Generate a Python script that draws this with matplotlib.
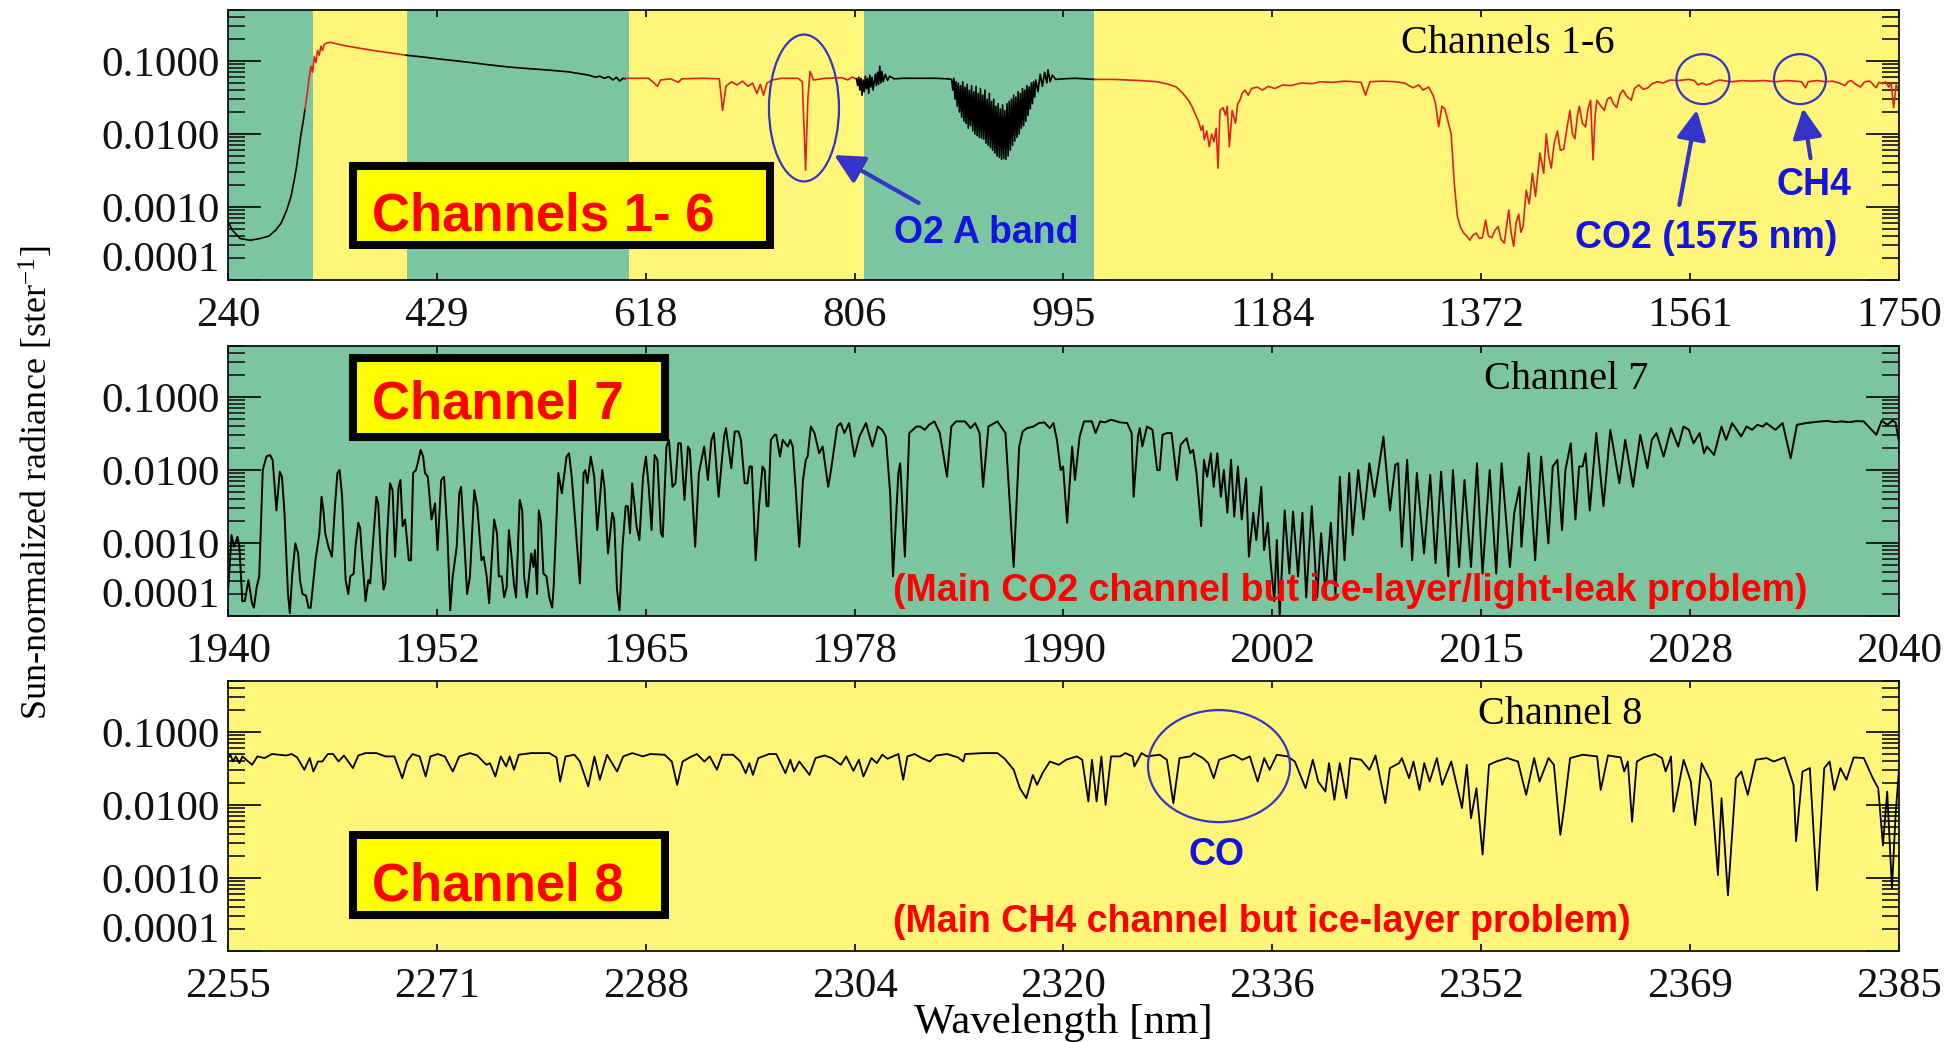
import numpy as np
import matplotlib
matplotlib.use("Agg")
import matplotlib.pyplot as plt
from matplotlib.patches import Rectangle, Ellipse
from matplotlib.ticker import FixedLocator, FixedFormatter, LogLocator, NullFormatter

plt.rcParams["font.family"] = ["Liberation Serif", "DejaVu Serif"]
plt.rcParams["mathtext.fontset"] = "custom"
plt.rcParams["mathtext.rm"] = "Liberation Serif"
plt.rcParams["mathtext.it"] = "Liberation Serif:italic"

SANS = ["Liberation Sans", "DejaVu Sans"]
GREEN = "#7BC6A1"
YELLOW = "#FFF679"
RED_LINE = "#E02020"
BLUE = "#3434C8"
BLUE_TEXT = "#1414E0"

# ---------------- axis labels / ticks ----------------
y_ticks = [1e-4, 1e-3, 1e-2, 1e-1]
y_ticklabels = ["0.0001", "0.0010", "0.0100", "0.1000"]
top_xlabels = ["240", "429", "618", "806", "995", "1184", "1372", "1561", "1750"]
mid_xlabels = ["1940", "1952", "1965", "1978", "1990", "2002", "2015", "2028", "2040"]
bot_xlabels = ["2255", "2271", "2288", "2304", "2320", "2336", "2352", "2369", "2385"]

# channel boundaries in the UV-NIR panel (green / yellow shading)
band_edges = [240, 317, 402, 602, 815, 1023, 1750]

# ---------------- channels 1-6 (wavelength nm, radiance) ----------------
ch1 = [(240, 6.3e-4), (244, 4.8e-4), (251, 3.7e-4), (260, 3.5e-4), (269, 3.7e-4),
       (277, 4.0e-4), (283, 4.8e-4), (288, 6.0e-4), (293, 9.0e-4), (297, 1.4e-3),
       (300, 2.4e-3), (302, 3.6e-3), (304, 6.0e-3), (306, 1.0e-2), (308, 1.5e-2),
       (309.6, 2.2e-2)]
ch2 = [(309.6, 0.022), (311.5, 0.035), (313.5, 0.061), (315, 0.085), (316.5, 0.070),
       (318, 0.115), (319.5, 0.095), (321, 0.140), (322.5, 0.120), (324, 0.160),
       (325.5, 0.140), (327, 0.170), (330, 0.178), (333, 0.180), (338, 0.172),
       (345, 0.163), (352, 0.156), (362, 0.147), (372, 0.139), (382, 0.132),
       (392, 0.126), (401, 0.120)]
ch3 = [(401, 0.120), (415, 0.114), (430, 0.107), (445, 0.101), (460, 0.095),
       (475, 0.089), (490, 0.084), (505, 0.080), (520, 0.077), (535, 0.074),
       (548, 0.071), (558, 0.067), (566, 0.064), (572, 0.060), (576, 0.062),
       (580, 0.058), (584, 0.061), (588, 0.055), (591, 0.060), (594, 0.053),
       (597, 0.058), (599, 0.057)]
ch4 = [(599, 0.058), (620, 0.058), (625, 0.050), (628, 0.045), (631, 0.055),
       (640, 0.057), (647, 0.051), (650, 0.057), (670, 0.058), (684, 0.057),
       (687, 0.021), (690, 0.045), (695, 0.052), (700, 0.047), (705, 0.053),
       (710, 0.045), (714, 0.050), (718, 0.036), (721, 0.048), (724, 0.034),
       (727, 0.050), (732, 0.055), (740, 0.058), (755, 0.058), (759, 0.052),
       (762, 0.0032), (764, 0.030), (766, 0.072), (769, 0.055), (780, 0.058),
       (795, 0.059), (800, 0.055), (804, 0.060), (808, 0.057)]
ch5 = [(808, 0.057), (809, 0.046), (810, 0.060), (811, 0.040), (812, 0.058),
       (813, 0.034), (814, 0.055), (815, 0.038), (816, 0.062), (817, 0.042),
       (818, 0.058), (819, 0.036), (820, 0.064), (821, 0.044), (822, 0.060),
       (823, 0.040), (825, 0.066), (826, 0.046), (827, 0.070), (828, 0.048),
       (829, 0.085), (830, 0.050), (831, 0.072), (832, 0.052), (834, 0.066),
       (836, 0.054), (838, 0.062), (842, 0.057), (850, 0.058), (865, 0.058),
       (880, 0.058), (890, 0.057), (894, 0.056), (895, 0.040), (896, 0.058),
       (897, 0.030), (898, 0.052), (899, 0.024), (900, 0.050), (901, 0.020),
       (902, 0.046), (903, 0.017), (904, 0.052), (905, 0.015), (906, 0.044),
       (907, 0.014), (908, 0.048), (909, 0.012), (910, 0.040), (911, 0.013),
       (912, 0.046), (913, 0.011), (914, 0.038), (915, 0.010), (916, 0.045),
       (917, 0.0095), (918, 0.036), (919, 0.009), (920, 0.042), (921, 0.0088),
       (922, 0.034), (923, 0.0085), (924, 0.040), (925, 0.0075), (926, 0.030),
       (927, 0.007), (928, 0.036), (929, 0.0065), (930, 0.028), (931, 0.006),
       (932, 0.030), (933, 0.0055), (934, 0.024), (935, 0.005), (936, 0.026),
       (937, 0.0048), (938, 0.022), (939, 0.0045), (940, 0.025), (941, 0.0046),
       (942, 0.021), (943, 0.0045), (944, 0.026), (945, 0.005), (946, 0.028),
       (947, 0.006), (948, 0.030), (949, 0.007), (950, 0.034), (951, 0.008),
       (952, 0.032), (953, 0.009), (954, 0.038), (955, 0.010), (956, 0.036),
       (957, 0.012), (958, 0.042), (959, 0.013), (960, 0.040), (961, 0.015),
       (962, 0.046), (963, 0.018), (964, 0.044), (965, 0.022), (966, 0.050),
       (967, 0.026), (968, 0.052), (969, 0.032), (970, 0.055), (972, 0.038),
       (974, 0.066), (976, 0.045), (978, 0.070), (980, 0.050), (981, 0.076),
       (983, 0.052), (985, 0.064), (988, 0.056), (995, 0.057), (1005, 0.058),
       (1015, 0.057), (1023, 0.056)]
ch6 = [(1023, 0.056), (1040, 0.056), (1052, 0.055), (1065, 0.054), (1080, 0.052),
       (1090, 0.048), (1097, 0.044), (1103, 0.036), (1108, 0.029), (1111, 0.024),
       (1114, 0.019), (1117, 0.015), (1119.5, 0.0112), (1121, 0.013), (1122.3, 0.0083),
       (1124.5, 0.011), (1126.8, 0.0067), (1129, 0.010), (1131, 0.0078), (1133, 0.012),
       (1134.7, 0.0034), (1136.4, 0.021), (1139.2, 0.023), (1141.5, 0.018), (1143, 0.024),
       (1144.9, 0.0067), (1147.5, 0.021), (1150.5, 0.014), (1152.5, 0.026), (1154.5, 0.029),
       (1156.5, 0.036), (1159, 0.040), (1162, 0.034), (1165, 0.042), (1170, 0.044),
       (1175, 0.040), (1180, 0.045), (1186, 0.042), (1193, 0.047), (1200, 0.046),
       (1210, 0.050), (1220, 0.049), (1227, 0.052), (1238, 0.051), (1249, 0.053),
       (1258, 0.052), (1264, 0.051), (1268, 0.034), (1272, 0.052), (1283, 0.053),
       (1295, 0.052), (1303, 0.050), (1311, 0.043), (1316, 0.047), (1320, 0.040),
       (1325, 0.044), (1329, 0.034), (1331.3, 0.026), (1334.1, 0.0126), (1337, 0.024),
       (1339.7, 0.022), (1343, 0.014), (1345.4, 0.010), (1348.2, 0.0021), (1351, 0.00074),
       (1354, 0.00052), (1356.7, 0.00044), (1359.5, 0.00040), (1362.3, 0.00035), (1365, 0.00041),
       (1368, 0.00044), (1371, 0.00037), (1373.6, 0.00038), (1376.5, 0.00066), (1379, 0.00040),
       (1382.1, 0.00038), (1385, 0.00048), (1387.8, 0.00054), (1390.5, 0.00036), (1393.4, 0.00032),
       (1397.4, 0.00091), (1399.5, 0.00045), (1401.9, 0.00029), (1404, 0.00060), (1406.4, 0.00080),
       (1408.4, 0.00045), (1410.4, 0.00054), (1413.2, 0.0017), (1416, 0.0011), (1418.8, 0.0029),
       (1421.6, 0.0014), (1425.6, 0.0055), (1429, 0.0029), (1431.3, 0.010), (1433.5, 0.0050),
       (1435.8, 0.0034), (1438.5, 0.0075), (1441.4, 0.011), (1444, 0.0060), (1447.1, 0.0062),
       (1450, 0.012), (1452.7, 0.021), (1455, 0.010), (1457.2, 0.0086), (1459.5, 0.018),
       (1461.2, 0.024), (1464, 0.014), (1466.8, 0.0125), (1469, 0.022), (1471.4, 0.029),
       (1473.6, 0.0044), (1475.5, 0.018), (1477, 0.029), (1480, 0.025), (1483.8, 0.021),
       (1486.5, 0.030), (1489.4, 0.032), (1492, 0.026), (1495, 0.023), (1498, 0.035),
       (1500.7, 0.040), (1504, 0.033), (1508.1, 0.029), (1511, 0.042), (1514.9, 0.047),
       (1519, 0.041), (1523.3, 0.043), (1527, 0.049), (1531.8, 0.052), (1537, 0.050),
       (1543.1, 0.055), (1551, 0.054), (1560, 0.056), (1565, 0.054), (1568.5, 0.047),
       (1572, 0.050), (1576, 0.047), (1579.8, 0.049), (1584, 0.053), (1588.3, 0.055),
       (1594, 0.053), (1599.6, 0.052), (1608, 0.054), (1616.5, 0.053), (1628, 0.054),
       (1639.1, 0.052), (1648, 0.054), (1656, 0.053), (1662, 0.052), (1665.6, 0.043),
       (1668, 0.052), (1676, 0.054), (1684, 0.052), (1690, 0.053), (1696, 0.050),
       (1701.2, 0.046), (1704, 0.052), (1706.9, 0.054), (1711, 0.048), (1715.3, 0.044),
       (1719, 0.052), (1723.8, 0.053), (1727, 0.047), (1729.5, 0.043), (1732, 0.051),
       (1735.1, 0.049), (1738, 0.052), (1740.8, 0.044), (1743, 0.050), (1745.3, 0.023),
       (1747.5, 0.047), (1750, 0.040)]

# ---------------- channel 7 ----------------
ch7 = [(1940.00, 2.1e-4), (1940.21, 1.29e-3), (1940.36, 8.9e-4), (1940.57, 1.22e-3), (1940.68, 8.9e-4),
       (1940.86, 1.6e-4), (1941.01, 1.6e-4), (1941.22, 3.1e-4), (1941.44, 1.5e-4), (1941.55, 1.3e-4),
       (1941.72, 2.5e-4), (1941.87, 3.5e-4), (1942.08, 1.0e-2), (1942.30, 1.53e-2), (1942.52, 1.61e-2),
       (1942.67, 1.38e-2), (1942.90, 2.8e-3), (1943.10, 9.5e-3), (1943.23, 8.1e-3), (1943.38, 2.6e-3),
       (1943.59, 2.0e-4), (1943.70, 1.1e-4), (1943.85, 3.8e-4), (1944.03, 9.9e-4), (1944.20, 7.2e-4),
       (1944.31, 3.1e-4), (1944.46, 2.0e-4), (1944.67, 1.9e-4), (1944.82, 1.3e-4), (1944.95, 1.3e-4),
       (1945.10, 2.8e-4), (1945.25, 6.2e-4), (1945.47, 1.36e-3), (1945.60, 4.3e-3), (1945.71, 2.8e-3),
       (1945.82, 1.36e-3), (1946.01, 8.9e-4), (1946.22, 6.5e-4), (1946.40, 3.2e-3), (1946.55, 9.1e-3),
       (1946.68, 1.0e-2), (1946.83, 4.3e-3), (1947.04, 3.1e-4), (1947.20, 2.0e-4), (1947.32, 3.5e-4),
       (1947.52, 3.8e-4), (1947.63, 8.9e-4), (1947.80, 1.9e-3), (1947.91, 1.6e-3), (1948.01, 7.2e-4),
       (1948.17, 2.5e-4), (1948.23, 1.6e-4), (1948.40, 3.1e-4), (1948.51, 2.8e-4), (1948.66, 8.9e-4),
       (1948.88, 4.3e-3), (1948.99, 3.5e-3), (1949.14, 7.2e-4), (1949.31, 2.3e-4), (1949.42, 2.8e-4),
       (1949.52, 1.22e-3), (1949.70, 6.6e-3), (1949.85, 5.3e-3), (1950.00, 6.5e-4), (1950.21, 5.9e-3),
       (1950.32, 7.3e-3), (1950.45, 1.7e-3), (1950.60, 2.1e-3), (1950.82, 5.8e-4), (1950.95, 5.8e-4),
       (1951.08, 9.1e-3), (1951.25, 1.0e-2), (1951.40, 1.38e-2), (1951.53, 1.89e-2), (1951.68, 1.53e-2),
       (1951.79, 9.1e-3), (1951.96, 8.1e-3), (1952.18, 2.1e-3), (1952.39, 3.5e-3), (1952.54, 8.0e-4),
       (1952.76, 7.3e-3), (1952.93, 8.1e-3), (1953.13, 1.36e-3), (1953.30, 1.2e-4), (1953.45, 3.5e-4),
       (1953.69, 8.9e-4), (1953.84, 4.8e-3), (1953.95, 5.9e-3), (1954.16, 8.9e-4), (1954.31, 2.0e-4),
       (1954.48, 3.5e-4), (1954.74, 5.3e-3), (1954.92, 3.2e-3), (1955.17, 5.8e-4), (1955.30, 6.5e-4),
       (1955.48, 3.5e-4), (1955.63, 1.5e-4), (1955.78, 5.8e-4), (1955.93, 2.1e-3), (1956.10, 1.36e-3),
       (1956.21, 3.5e-4), (1956.38, 3.5e-4), (1956.53, 1.8e-4), (1956.68, 2.5e-4), (1956.81, 1.5e-3),
       (1956.99, 5.8e-4), (1957.11, 2.8e-4), (1957.24, 1.8e-4), (1957.46, 3.9e-3), (1957.61, 2.8e-3),
       (1957.72, 3.5e-4), (1957.89, 1.8e-4), (1958.15, 7.2e-4), (1958.28, 4.7e-4), (1958.37, 8.0e-4),
       (1958.50, 2.0e-4), (1958.60, 2.8e-3), (1958.73, 1.9e-3), (1958.88, 3.8e-4), (1959.06, 3.5e-4),
       (1959.23, 1.8e-4), (1959.40, 1.3e-4), (1959.49, 2.5e-4), (1959.77, 9.1e-3), (1959.98, 4.8e-3),
       (1960.26, 1.53e-2), (1960.41, 1.7e-2), (1960.57, 8.1e-3), (1960.74, 2.6e-3), (1961.06, 2.8e-4),
       (1961.28, 9.1e-3), (1961.39, 1.0e-2), (1961.51, 6.6e-3), (1961.71, 1.53e-2), (1961.92, 8.1e-3),
       (1962.10, 1.5e-3), (1962.40, 1.0e-2), (1962.53, 5.9e-3), (1962.74, 7.2e-4), (1963.00, 2.6e-3),
       (1963.11, 2.1e-3), (1963.28, 2.3e-4), (1963.43, 1.2e-4), (1963.61, 8.9e-4), (1963.80, 3.2e-3),
       (1963.93, 3.2e-3), (1964.06, 1.36e-3), (1964.19, 6.6e-3), (1964.34, 3.2e-3), (1964.45, 1.7e-3),
       (1964.62, 1.1e-3), (1964.84, 8.1e-3), (1965.01, 1.53e-2), (1965.18, 5.9e-3), (1965.35, 1.5e-3),
       (1965.53, 1.61e-2), (1965.70, 1.38e-2), (1965.91, 1.36e-3), (1966.02, 1.22e-3), (1966.24, 2.1e-2),
       (1966.39, 2.59e-2), (1966.60, 5.9e-3), (1966.78, 6.6e-3), (1966.95, 2.33e-2), (1967.10, 2.33e-2),
       (1967.32, 3.9e-3), (1967.53, 2.1e-2), (1967.64, 1.89e-2), (1967.96, 8.9e-4), (1968.18, 9.1e-3),
       (1968.50, 2.1e-2), (1968.72, 7.3e-3), (1968.93, 2.59e-2), (1969.08, 3.21e-2), (1969.36, 4.3e-3),
       (1969.69, 2.88e-2), (1969.80, 3.75e-2), (1970.12, 1.06e-2), (1970.33, 3.38e-2), (1970.55, 3.38e-2),
       (1970.70, 2.59e-2), (1970.92, 6.6e-3), (1971.09, 6.6e-3), (1971.22, 1.12e-2), (1971.35, 1.12e-2),
       (1971.58, 5.8e-4), (1971.78, 3.2e-3), (1971.99, 1.12e-2), (1972.12, 1.0e-2), (1972.23, 3.2e-3),
       (1972.34, 3.2e-3), (1972.49, 2.59e-2), (1972.71, 3.04e-2), (1972.81, 3.04e-2), (1973.03, 1.53e-2),
       (1973.20, 2.59e-2), (1973.50, 2.1e-2), (1973.65, 2.59e-2), (1973.80, 2.1e-2), (1973.98, 5.3e-3),
       (1974.19, 8.9e-4), (1974.41, 7.3e-3), (1974.58, 1.38e-2), (1974.69, 1.53e-2), (1974.88, 3.95e-2),
       (1975.10, 3.21e-2), (1975.38, 1.7e-2), (1975.59, 2.1e-2), (1975.92, 5.9e-3), (1976.09, 1.0e-2),
       (1976.46, 3.95e-2), (1976.67, 4.4e-2), (1976.89, 3.21e-2), (1977.17, 4.4e-2), (1977.49, 1.53e-2),
       (1977.79, 2.88e-2), (1978.18, 4.4e-2), (1978.57, 2.1e-2), (1978.89, 3.95e-2), (1979.15, 3.56e-2),
       (1979.37, 2.88e-2), (1979.63, 4.8e-3), (1979.80, 3.5e-4), (1980.12, 9.1e-3), (1980.23, 1.24e-2),
       (1980.51, 6.5e-4), (1980.77, 3.21e-2), (1981.20, 3.95e-2), (1981.42, 3.95e-2), (1981.70, 3.56e-2),
       (1981.96, 4.17e-2), (1982.28, 4.64e-2), (1982.60, 3.21e-2), (1983.03, 8.1e-3), (1983.29, 3.95e-2),
       (1983.57, 4.64e-2), (1984.11, 4.64e-2), (1984.44, 3.75e-2), (1984.72, 4.4e-2), (1984.98, 3.21e-2),
       (1985.19, 5.9e-3), (1985.51, 3.95e-2), (1986.05, 4.64e-2), (1986.53, 3.21e-2), (1987.02, 4.7e-4),
       (1987.35, 2.1e-2), (1987.56, 3.38e-2), (1987.82, 3.75e-2), (1988.21, 3.95e-2), (1988.53, 4.4e-2),
       (1988.86, 4.5e-2), (1989.18, 3.75e-2), (1989.40, 4.4e-2), (1989.61, 2.59e-2), (1989.83, 1.0e-2),
       (1989.98, 1.12e-2), (1990.22, 1.9e-3), (1990.52, 2.1e-2), (1990.69, 7.3e-3), (1990.97, 2.88e-2),
       (1991.23, 4.64e-2), (1991.70, 4.64e-2), (1991.92, 3.21e-2), (1992.20, 4.64e-2), (1992.48, 4.5e-2),
       (1992.85, 4.89e-2), (1993.39, 4.5e-2), (1993.82, 4.4e-2), (1994.08, 3.21e-2), (1994.20, 4.3e-3),
       (1994.46, 2.88e-2), (1994.57, 3.75e-2), (1994.72, 2.1e-2), (1995.00, 3.95e-2), (1995.33, 3.56e-2),
       (1995.61, 1.0e-2), (1995.76, 1.0e-2), (1995.93, 3.04e-2), (1996.19, 3.21e-2), (1996.47, 3.21e-2),
       (1996.79, 7.3e-3), (1997.01, 2.22e-2), (1997.37, 2.73e-2), (1997.59, 1.7e-2), (1997.76, 1.89e-2),
       (1997.96, 9.1e-3), (1998.24, 1.7e-3), (1998.41, 1.38e-2), (1998.60, 8.1e-3), (1998.82, 1.7e-2),
       (1998.99, 5.9e-3), (1999.21, 1.7e-2), (1999.42, 4.3e-3), (1999.60, 1.0e-2), (1999.81, 2.6e-3),
       (2000.03, 1.38e-2), (2000.22, 2.3e-3), (2000.44, 1.12e-2), (2000.67, 2.1e-3), (2000.93, 7.7e-3),
       (2001.10, 6.5e-4), (2001.36, 2.6e-3), (2001.54, 1.1e-3), (2001.84, 5.9e-3), (2002.01, 8.0e-4),
       (2002.23, 1.9e-3), (2002.40, 5.3e-4), (2002.62, 1.6e-4), (2002.77, 1.1e-3), (2002.94, 1.0e-4),
       (2003.24, 2.8e-3), (2003.52, 3.8e-4), (2003.74, 2.7e-3), (2004.04, 3.5e-4), (2004.30, 2.6e-3),
       (2004.53, 1.8e-4), (2004.86, 3.2e-3), (2005.18, 1.8e-4), (2005.42, 1.36e-3), (2005.68, 2.0e-4),
       (2006.00, 1.9e-3), (2006.28, 2.0e-4), (2006.54, 8.1e-3), (2006.82, 5.8e-4), (2007.10, 9.1e-3),
       (2007.31, 1.29e-3), (2007.64, 1.0e-2), (2007.96, 2.1e-3), (2008.31, 1.24e-2), (2008.61, 4.3e-3),
       (2009.15, 2.88e-2), (2009.54, 2.8e-3), (2009.86, 1.18e-2), (2010.03, 1.24e-2), (2010.25, 8.9e-4),
       (2010.57, 1.38e-2), (2010.87, 5.8e-4), (2011.15, 9.1e-3), (2011.58, 7.2e-4), (2011.95, 8.6e-3),
       (2012.27, 5.3e-4), (2012.60, 9.5e-3), (2013.03, 3.5e-4), (2013.31, 1.0e-2), (2013.68, 4.7e-4),
       (2014.00, 7.3e-3), (2014.39, 4.7e-4), (2014.75, 1.24e-2), (2015.08, 3.8e-4), (2015.51, 1.0e-2),
       (2015.90, 3.8e-4), (2016.22, 1.24e-2), (2016.72, 4.7e-4), (2016.98, 2.6e-3), (2017.30, 5.9e-3),
       (2017.41, 8.9e-4), (2017.84, 1.7e-2), (2018.23, 5.8e-4), (2018.59, 1.53e-2), (2019.02, 9.9e-4),
       (2019.28, 1.12e-2), (2019.56, 1.38e-2), (2019.84, 1.5e-3), (2020.04, 1.0e-2), (2020.36, 2.33e-2),
       (2020.64, 2.1e-3), (2020.86, 1.12e-2), (2021.07, 1.12e-2), (2021.25, 1.7e-2), (2021.50, 2.8e-3),
       (2021.89, 3.21e-2), (2022.32, 3.2e-3), (2022.73, 3.56e-2), (2023.27, 6.6e-3), (2023.62, 2.59e-2),
       (2024.09, 5.9e-3), (2024.52, 3.04e-2), (2024.95, 1.06e-2), (2025.21, 2.59e-2), (2025.49, 3.21e-2),
       (2025.92, 1.53e-2), (2026.36, 3.75e-2), (2026.79, 2.1e-2), (2027.11, 3.95e-2), (2027.43, 3.56e-2),
       (2027.71, 2.33e-2), (2028.08, 3.21e-2), (2028.34, 1.7e-2), (2028.51, 2.1e-2), (2028.94, 1.61e-2),
       (2029.38, 3.95e-2), (2029.66, 2.59e-2), (2030.02, 4.4e-2), (2030.56, 2.88e-2), (2030.88, 3.95e-2),
       (2031.21, 3.56e-2), (2031.53, 4.17e-2), (2031.86, 3.95e-2), (2032.07, 4.4e-2), (2032.61, 3.56e-2),
       (2033.04, 4.4e-2), (2033.52, 1.45e-2), (2033.90, 4.17e-2), (2034.44, 4.4e-2), (2034.90, 4.52e-2),
       (2035.31, 4.64e-2), (2035.70, 4.7e-2), (2036.17, 4.55e-2), (2036.60, 4.64e-2), (2037.03, 4.52e-2),
       (2037.45, 4.68e-2), (2037.89, 4.64e-2), (2038.65, 3.04e-2), (2038.97, 4.75e-2), (2039.30, 4.17e-2),
       (2039.62, 4.75e-2), (2039.80, 4.5e-2), (2040.00, 2.5e-2)]

# ---------------- channel 8 ----------------
ch8 = [(2255.00, 4.4e-2), (2255.19, 4.89e-2), (2255.39, 3.95e-2), (2255.61, 4.64e-2), (2255.89, 3.75e-2),
       (2256.12, 4.64e-2), (2256.87, 3.56e-2), (2257.29, 4.64e-2), (2257.85, 4.4e-2), (2258.41, 5.0e-2),
       (2259.54, 4.78e-2), (2259.96, 5.0e-2), (2260.38, 4.5e-2), (2260.94, 3.04e-2), (2261.36, 4.4e-2),
       (2261.64, 2.88e-2), (2262.00, 3.95e-2), (2262.34, 3.95e-2), (2262.76, 5.0e-2), (2263.18, 5.0e-2),
       (2263.60, 3.95e-2), (2264.02, 4.78e-2), (2264.72, 3.21e-2), (2265.14, 4.78e-2), (2265.70, 5.15e-2),
       (2266.55, 5.15e-2), (2267.25, 4.64e-2), (2267.95, 4.64e-2), (2268.56, 2.33e-2), (2268.93, 3.95e-2),
       (2269.35, 5.0e-2), (2269.91, 4.64e-2), (2270.38, 2.46e-2), (2270.75, 4.64e-2), (2271.31, 5.0e-2),
       (2271.87, 4.64e-2), (2272.49, 2.88e-2), (2272.99, 4.64e-2), (2273.83, 5.15e-2), (2274.39, 4.78e-2),
       (2275.10, 3.56e-2), (2275.38, 3.75e-2), (2275.80, 2.46e-2), (2276.22, 4.64e-2), (2276.64, 3.38e-2),
       (2276.92, 4.64e-2), (2277.25, 3.04e-2), (2277.62, 4.89e-2), (2278.60, 5.15e-2), (2280.00, 5.15e-2),
       (2280.56, 4.5e-2), (2280.84, 2.1e-2), (2281.26, 4.64e-2), (2281.96, 4.89e-2), (2282.38, 3.95e-2),
       (2283.03, 1.8e-2), (2283.51, 4.64e-2), (2283.93, 2.22e-2), (2284.49, 4.89e-2), (2285.27, 2.88e-2),
       (2285.75, 4.64e-2), (2286.45, 5.15e-2), (2287.29, 4.64e-2), (2287.85, 5.0e-2), (2288.97, 4.89e-2),
       (2289.53, 3.95e-2), (2289.95, 1.89e-2), (2290.37, 3.95e-2), (2291.07, 4.64e-2), (2291.49, 5.0e-2),
       (2292.06, 3.95e-2), (2292.48, 4.64e-2), (2293.04, 3.04e-2), (2293.46, 4.89e-2), (2294.30, 4.89e-2),
       (2294.86, 3.95e-2), (2295.28, 2.73e-2), (2295.56, 3.75e-2), (2295.84, 2.59e-2), (2296.26, 4.4e-2),
       (2297.10, 5.0e-2), (2297.66, 5.0e-2), (2298.37, 2.73e-2), (2298.75, 4.17e-2), (2299.03, 2.88e-2),
       (2299.45, 3.95e-2), (2300.24, 2.59e-2), (2300.71, 4.4e-2), (2301.41, 4.78e-2), (2301.97, 4.4e-2),
       (2302.68, 3.56e-2), (2303.10, 4.64e-2), (2303.66, 2.94e-2), (2304.08, 4.17e-2), (2304.44, 2.46e-2),
       (2305.06, 4.4e-2), (2305.48, 3.75e-2), (2305.90, 4.89e-2), (2306.32, 4.31e-2), (2307.16, 5.0e-2),
       (2307.53, 2.22e-2), (2307.86, 4.64e-2), (2308.42, 5.0e-2), (2308.98, 4.4e-2), (2309.60, 3.95e-2),
       (2310.10, 4.78e-2), (2310.95, 5.0e-2), (2311.79, 4.5e-2), (2312.21, 3.95e-2), (2312.35, 5.0e-2),
       (2313.75, 5.15e-2), (2314.87, 5.15e-2), (2315.43, 4.31e-2), (2316.13, 3.04e-2), (2316.61, 1.7e-2),
       (2317.11, 1.24e-2), (2317.62, 2.59e-2), (2317.95, 1.89e-2), (2318.37, 2.73e-2), (2318.94, 3.95e-2),
       (2319.64, 3.56e-2), (2320.20, 4.17e-2), (2321.04, 4.64e-2), (2321.46, 4.17e-2), (2321.94, 1.12e-2),
       (2322.22, 4.17e-2), (2322.58, 1.12e-2), (2322.95, 4.64e-2), (2323.28, 1.0e-2), (2323.70, 4.64e-2),
       (2324.40, 4.64e-2), (2324.82, 5.15e-2), (2325.38, 4.64e-2), (2325.52, 3.38e-2), (2326.08, 5.15e-2),
       (2326.50, 4.64e-2), (2327.49, 4.89e-2), (2328.05, 4.17e-2), (2328.55, 1.06e-2), (2329.03, 4.4e-2),
       (2329.87, 4.64e-2), (2330.15, 5.15e-2), (2330.85, 4.4e-2), (2331.27, 3.75e-2), (2331.69, 2.33e-2),
       (2332.11, 4.17e-2), (2333.23, 4.89e-2), (2333.93, 4.17e-2), (2334.50, 4.64e-2), (2335.11, 2.1e-2),
       (2335.62, 4.4e-2), (2336.04, 3.04e-2), (2336.60, 4.89e-2), (2337.44, 4.64e-2), (2338.00, 3.95e-2),
       (2338.84, 1.7e-2), (2339.40, 4.17e-2), (2339.82, 2.1e-2), (2340.38, 1.53e-2), (2340.66, 3.75e-2),
       (2341.08, 1.18e-2), (2341.50, 3.75e-2), (2342.01, 1.24e-2), (2342.32, 4.4e-2), (2343.16, 4.17e-2),
       (2343.81, 3.04e-2), (2344.28, 4.78e-2), (2345.04, 1.06e-2), (2345.40, 3.21e-2), (2346.11, 3.75e-2),
       (2346.33, 4.4e-2), (2346.89, 2.33e-2), (2347.23, 3.95e-2), (2347.70, 1.61e-2), (2348.07, 3.75e-2),
       (2348.49, 2.1e-2), (2349.05, 4.4e-2), (2349.47, 1.89e-2), (2350.17, 3.95e-2), (2351.01, 9.1e-3),
       (2351.38, 3.56e-2), (2351.71, 6.6e-3), (2352.13, 1.7e-2), (2352.61, 2.1e-3), (2353.11, 3.56e-2),
       (2353.67, 3.95e-2), (2354.52, 4.4e-2), (2355.36, 3.95e-2), (2356.00, 1.38e-2), (2356.62, 4.4e-2),
       (2357.04, 2.1e-2), (2357.74, 4.4e-2), (2358.16, 3.56e-2), (2358.66, 3.9e-3), (2358.95, 9.1e-3),
       (2359.42, 4.4e-2), (2360.40, 4.89e-2), (2361.52, 4.64e-2), (2361.80, 1.61e-2), (2362.37, 4.78e-2),
       (2363.35, 4.5e-2), (2363.63, 2.88e-2), (2363.91, 3.95e-2), (2364.24, 5.9e-3), (2364.61, 3.95e-2),
       (2365.17, 4.5e-2), (2366.01, 5.0e-2), (2366.57, 4.4e-2), (2366.85, 2.88e-2), (2367.27, 4.64e-2),
       (2367.47, 8.1e-3), (2367.83, 1.7e-2), (2368.25, 4.17e-2), (2368.81, 2.1e-2), (2369.15, 5.3e-3),
       (2369.65, 3.75e-2), (2370.36, 2.1e-2), (2370.92, 1.1e-3), (2371.20, 1.24e-2), (2371.70, 5.8e-4),
       (2372.32, 2.33e-2), (2372.74, 2.88e-2), (2373.24, 1.38e-2), (2373.86, 4.17e-2), (2374.70, 4.4e-2),
       (2375.26, 3.95e-2), (2376.10, 4.5e-2), (2376.80, 1.89e-2), (2377.00, 3.2e-3), (2377.50, 2.88e-2),
       (2378.07, 3.21e-2), (2378.63, 6.8e-4), (2379.19, 3.21e-2), (2379.61, 3.95e-2), (2379.97, 1.61e-2),
       (2380.45, 3.21e-2), (2380.92, 2.22e-2), (2381.48, 4.5e-2), (2382.27, 4.4e-2), (2382.97, 2.33e-2),
       (2383.39, 1.7e-2), (2383.76, 2.8e-3), (2384.09, 1.53e-2), (2384.46, 7.2e-4), (2384.74, 7.3e-3),
       (2385.00, 3.0e-2)]


def spectrum(points):
    arr = np.array(points)
    return arr[:, 0], arr[:, 1]


def style_axes(ax, x0, x1, xlabels):
    ax.set_yscale("log")
    ax.set_xlim(x0, x1)
    ax.set_ylim(1e-4, 0.5)
    ax.xaxis.set_major_locator(FixedLocator(np.linspace(x0, x1, len(xlabels))))
    ax.xaxis.set_major_formatter(FixedFormatter(xlabels))
    ax.yaxis.set_major_locator(FixedLocator(y_ticks))
    ax.yaxis.set_major_formatter(FixedFormatter(y_ticklabels))
    ax.yaxis.set_minor_locator(LogLocator(base=10, subs=np.arange(2, 10), numticks=20))
    ax.yaxis.set_minor_formatter(NullFormatter())
    ax.tick_params(axis="y", which="major", direction="in", length=24, width=1.3,
                   left=True, right=True, labelsize=31, pad=6, colors="#111111")
    ax.tick_params(axis="y", which="minor", direction="in", length=12, width=1.3,
                   left=True, right=True, colors="#222222")
    ax.tick_params(axis="x", which="major", direction="in", length=5, width=1.3,
                   top=True, bottom=True, labelsize=31, pad=12, colors="#111111")
    for s in ax.spines.values():
        s.set_linewidth(1.3)
        s.set_color("#111111")
    # the lowest label sits on the bottom frame instead of being centred on it
    ticks = ax.yaxis.get_major_ticks()
    ticks[0].label1.set_va("bottom")


def label_box(ax, text, x0, y0, w, h, tx, ty):
    ax.add_patch(Rectangle((x0, y0), w, h, transform=ax.transAxes, facecolor="#FFFF00",
                           edgecolor="black", linewidth=5.8, zorder=5))
    ax.text(tx, ty, text, transform=ax.transAxes, color="#FF0000", fontsize=38,
            fontweight="bold", family=SANS, va="baseline", ha="left", zorder=6)


def arrow(ax, tail, tip):
    ax.annotate("", xy=tip, xytext=tail, xycoords="axes fraction", textcoords="axes fraction",
                arrowprops=dict(arrowstyle="-|>,head_length=0.6,head_width=0.3", color=BLUE,
                                lw=3, mutation_scale=30, shrinkA=0, shrinkB=0), zorder=6)


fig = plt.figure(figsize=(19.52, 10.42), dpi=100)
ax1 = fig.add_axes([0.1168, 0.7313, 0.8560, 0.2591])
ax2 = fig.add_axes([0.1168, 0.4088, 0.8560, 0.2591])
ax3 = fig.add_axes([0.1168, 0.0873, 0.8560, 0.2591])

# ---- channels 1-6 ----
for i in range(len(band_edges) - 1):
    ax1.axvspan(band_edges[i], band_edges[i + 1], color=GREEN if i % 2 == 0 else YELLOW,
                lw=0, zorder=0)
for i, seg in enumerate([ch1, ch2, ch3, ch4, ch5, ch6]):
    x, y = spectrum(seg)
    ax1.plot(x, y, color="black" if i % 2 == 0 else RED_LINE, lw=1.2, zorder=2)
style_axes(ax1, 240, 1750, top_xlabels)
ax1.text(0.702, 0.841, "Channels 1-6", transform=ax1.transAxes, fontsize=29, va="baseline")
label_box(ax1, "Channels 1- 6", 0.0748, 0.1296, 0.2496, 0.2926, 0.0862, 0.185)

ax1.add_patch(Ellipse((0.3447, 0.637), 0.0419, 0.544, transform=ax1.transAxes, fill=False,
                      edgecolor=BLUE, lw=1.6, zorder=6))
ax1.add_patch(Ellipse((0.8827, 0.744), 0.0317, 0.185, transform=ax1.transAxes, fill=False,
                      edgecolor=BLUE, lw=1.6, zorder=6))
ax1.add_patch(Ellipse((0.9408, 0.744), 0.0311, 0.185, transform=ax1.transAxes, fill=False,
                      edgecolor=BLUE, lw=1.6, zorder=6))
arrow(ax1, (0.4134, 0.285), (0.3627, 0.463))
arrow(ax1, (0.8686, 0.278), (0.8791, 0.630))
arrow(ax1, (0.9471, 0.451), (0.9426, 0.636))
ax1.text(0.3986, 0.137, "O2 A band", transform=ax1.transAxes, color=BLUE_TEXT, fontsize=27,
         fontweight="bold", family=SANS, va="baseline")
ax1.text(0.806, 0.118, "CO2 (1575 nm)", transform=ax1.transAxes, color=BLUE_TEXT, fontsize=27,
         fontweight="bold", family=SANS, va="baseline")
ax1.text(0.927, 0.315, "CH4", transform=ax1.transAxes, color=BLUE_TEXT, fontsize=27,
         fontweight="bold", family=SANS, va="baseline")

# ---- channel 7 ----
ax2.set_facecolor(GREEN)
x, y = spectrum(ch7)
ax2.plot(x, y, color="black", lw=1.4, zorder=2)
style_axes(ax2, 1940, 2040, mid_xlabels)
ax2.text(0.7515, 0.842, "Channel 7", transform=ax2.transAxes, fontsize=29, va="baseline")
label_box(ax2, "Channel 7", 0.0748, 0.663, 0.1867, 0.2926, 0.0862, 0.733)
ax2.text(0.398, 0.0556, "(Main CO2 channel but ice-layer/light-leak problem)",
         transform=ax2.transAxes, color="#FF0000", fontsize=27, fontweight="bold",
         family=SANS, va="baseline", zorder=6)

# ---- channel 8 ----
ax3.set_facecolor(YELLOW)
x, y = spectrum(ch8)
ax3.plot(x, y, color="black", lw=1.3, zorder=2)
style_axes(ax3, 2255, 2385, bot_xlabels)
ax3.text(0.7478, 0.842, "Channel 8", transform=ax3.transAxes, fontsize=29, va="baseline")
label_box(ax3, "Channel 8", 0.0748, 0.1333, 0.1867, 0.296, 0.0862, 0.189)
ax3.add_patch(Ellipse((0.5931, 0.685), 0.085, 0.415, transform=ax3.transAxes, fill=False,
                      edgecolor=BLUE, lw=1.6, zorder=6))
ax3.text(0.5749, 0.319, "CO", transform=ax3.transAxes, color=BLUE_TEXT, fontsize=27,
         fontweight="bold", family=SANS, va="baseline")
ax3.text(0.398, 0.0715, "(Main CH4 channel but ice-layer problem)",
         transform=ax3.transAxes, color="#FF0000", fontsize=27, fontweight="bold",
         family=SANS, va="baseline", zorder=6)

fig.text(0.019, 0.5365, "Sun-normalized radiance [ster$^{-1}$]", rotation=90,
         ha="center", va="center", fontsize=26)
fig.text(1063 / 1952, 1 - 1033 / 1042, "Wavelength [nm]", ha="center", va="baseline", fontsize=31)

fig.savefig("out.png", dpi=100)
